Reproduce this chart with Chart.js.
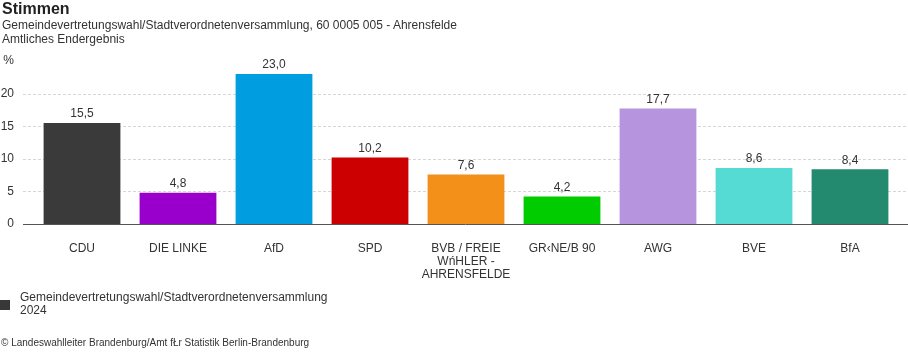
<!DOCTYPE html>
<html>
<head>
<meta charset="utf-8">
<script src="https://cdn.jsdelivr.net/npm/chart.js@4"></script>
<style>
  body { margin: 0; background: #fff; font-family: "Liberation Sans", Arial, sans-serif; color: #333; }
  #wrap { position: relative; width: 908px; height: 352px; overflow: hidden; }
  canvas { position: absolute; left: 0; top: 0; }
  .txt { position: absolute; white-space: nowrap; }
  #title { left: 2px; top: 0px; font-size: 16px; font-weight: bold; color: #222; }
  #sub { left: 2px; top: 18px; font-size: 12px; line-height: 14px; }
  #legend { left: 0; top: 291px; font-size: 12px; line-height: 13px; }
  #legend .box { position: absolute; left: 0; top: 9px; width: 10px; height: 10px; background: #383838; }
  #legend .lbl { position: absolute; left: 20px; top: 0; }
  #foot { left: 1px; top: 337px; font-size: 10px; }
</style>
</head>
<body>
<div id="wrap">
  <canvas id="barChart" width="908" height="352"></canvas>
  <div class="txt" id="title">Stimmen</div>
  <div class="txt" id="sub">Gemeindevertretungswahl/Stadtverordnetenversammlung, 60 0005 005 - Ahrensfelde<br>Amtliches Endergebnis</div>
  <div class="txt" id="legend"><div class="box"></div><div class="lbl">Gemeindevertretungswahl/Stadtverordnetenversammlung<br>2024</div></div>
  <div class="txt" id="foot">© Landeswahlleiter Brandenburg/Amt fŁr Statistik Berlin-Brandenburg</div>
</div>
<script>
// data
const parties = ['CDU', 'DIE LINKE', 'AfD', 'SPD', ['BVB / FREIE', 'WńHLER -', 'AHRENSFELDE'], 'GR‹NE/B 90', 'AWG', 'BVE', 'BfA'];
const votes2024 = [15.5, 4.8, 23.0, 10.2, 7.6, 4.2, 17.7, 8.6, 8.4];
const partyColors = ['#3a3a3a', '#9900cc', '#009ee0', '#cc0000', '#f39019', '#00cc00', '#b794de', '#55dbd3', '#248a6f'];
const yTicks = [0, 5, 10, 15, 20];

const fmt = v => v.toFixed(1).replace('.', ',');

// grid lines + base line run a bit wider than the bars
const gridPlugin = {
  id: 'gridPlugin',
  beforeDatasetsDraw(chart) {
    const ctx = chart.ctx;
    const y = chart.scales.y;
    ctx.save();
    ctx.lineWidth = 1;
    yTicks.forEach(t => {
      const py = Math.round(y.getPixelForValue(t)) + 0.5;
      if (t === 0) return;
      ctx.strokeStyle = '#d6d6d6';
      ctx.setLineDash([3, 2]);
      ctx.beginPath();
      ctx.moveTo(23, py);
      ctx.lineTo(chart.width, py);
      ctx.stroke();
    });
    ctx.restore();
  },
  afterDatasetsDraw(chart) {
    const ctx = chart.ctx;
    const y = chart.scales.y;
    ctx.save();
    const py = Math.round(y.getPixelForValue(0)) + 0.5;
    ctx.strokeStyle = '#555';
    ctx.lineWidth = 1;
    ctx.beginPath();
    ctx.moveTo(23, py);
    ctx.lineTo(chart.width, py);
    ctx.stroke();
    // value labels
    ctx.font = '12px "Liberation Sans", Arial, sans-serif';
    ctx.fillStyle = '#333';
    ctx.textAlign = 'center';
    ctx.textBaseline = 'bottom';
    chart.getDatasetMeta(0).data.forEach((bar, i) => {
      ctx.fillText(fmt(votes2024[i]), bar.x, bar.y - 3);
    });
    ctx.restore();
  }
};

const ctxBar = document.getElementById('barChart').getContext('2d');
const barChart = new Chart(ctxBar, {
  type: 'bar',
  data: {
    labels: parties,
    datasets: [{
      label: 'Gemeindevertretungswahl/Stadtverordnetenversammlung 2024',
      data: votes2024,
      backgroundColor: partyColors,
      categoryPercentage: 0.8,
      barPercentage: 1.0
    }]
  },
  options: {
    responsive: false,
    animation: false,
    layout: { padding: { top: 61, right: 10, left: 0, bottom: 0 } },
    plugins: {
      legend: { display: false },
      tooltip: { enabled: false }
    },
    scales: {
      x: {
        grid: { display: false },
        border: { display: false },
        ticks: {
          color: '#333',
          padding: 10,
          maxRotation: 0,
          autoSkip: false,
          font: { family: '"Liberation Sans", Arial, sans-serif', size: 12, lineHeight: 1.1 }
        },
        afterFit(scale) { scale.height = 128; }
      },
      y: {
        min: 0,
        max: 25,
        grid: { display: false },
        border: { display: false },
        ticks: {
          stepSize: 5,
          color: '#333',
          padding: 12,
          font: { family: '"Liberation Sans", Arial, sans-serif', size: 12 },
          callback: v => (v === 25 ? '%' : v)
        },
        afterFit(scale) { scale.width = 34; }
      }
    }
  },
  plugins: [gridPlugin]
});
</script>
</body>
</html>
